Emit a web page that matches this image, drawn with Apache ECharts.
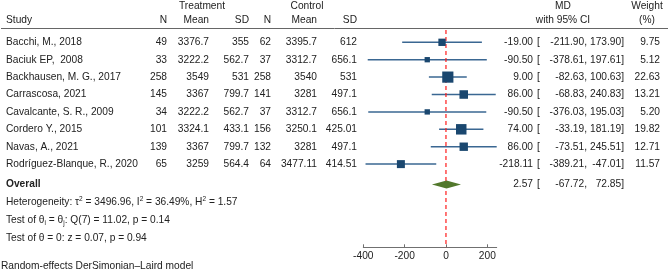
<!DOCTYPE html>
<html>
<head>
<meta charset="utf-8">
<title>Forest plot</title>
<style>html,body{margin:0;padding:0;background:#fff}</style>
</head>
<body>
<div id="main" style="width:669px;height:279px"></div>
<script src="https://cdn.jsdelivr.net/npm/echarts@6.0.0/dist/echarts.min.js"></script>
<script>
// study data
var studies = ['Bacchi, M., 2018', 'Baciuk EP,  2008', 'Backhausen, M. G., 2017', 'Carrascosa, 2021',
    'Cavalcante, S. R., 2009', 'Cordero Y., 2015', 'Navas, A., 2021', 'Rodríguez-Blanque, R., 2020'];
var tN = [49, 33, 258, 145, 34, 101, 139, 65];
var tMean = [3376.7, 3222.2, 3549, 3367, 3222.2, 3324.1, 3367, 3259];
var tSD = [355, 562.7, 531, 799.7, 562.7, 433.1, 799.7, 564.4];
var cN = [62, 37, 258, 141, 37, 156, 132, 64];
var cMean = [3395.7, 3312.7, 3540, 3281, 3312.7, 3250.1, 3281, 3477.11];
var cSD = [612, 656.1, 531, 497.1, 656.1, 425.01, 497.1, 414.51];
var md = [-19.00, -90.50, 9.00, 86.00, -90.50, 74.00, 86.00, -218.11];
var ciLow = [-211.90, -378.61, -82.63, -68.83, -376.03, -33.19, -73.51, -389.21];
var ciHigh = [173.90, 197.61, 100.63, 240.83, 195.03, 181.19, 245.51, -47.01];
var weight = [9.75, 5.12, 22.63, 13.21, 5.20, 19.82, 12.71, 11.57];

var overallMd = 2.57;
var overallLow = -67.72;
var overallHigh = 72.85;

var xTicks = [-400, -200, 0, 200];

var FONT = '"Liberation Sans", Arial, sans-serif';
var FS = 10.2;
var TXT = '#222';
var OVERALL_ROW = 9.17;

var dom = document.getElementById('main');
var myChart = echarts.init(dom);

function txt(x, y, s, align, bold) {
    return {
        type: 'text', x: x, y: y,
        style: {
            text: s, align: align, verticalAlign: 'middle',
            fontSize: FS, fontFamily: FONT, fontWeight: bold ? 'bold' : 'normal', fill: TXT
        }
    };
}

// columns of the table (MD part shared with overall row)
function mdCells(y, m, lo, hi) {
    return [
        txt(533, y, m.toFixed(2), 'right'),
        txt(537, y, '[', 'left'),
        txt(587, y, lo.toFixed(2) + ',', 'right'),
        txt(624, y, hi.toFixed(2) + ']', 'right')
    ];
}

var rows = studies.map(function (s, i) { return [0, i + 1]; });

var option = {
    animation: false,
    grid: { left: 363.3, top: 24.9, width: 133.4, height: 222.4 },
    xAxis: {
        type: 'value', min: -400, max: 245.51, interval: 200,
        splitLine: { show: false },
        axisLine: { onZero: false, lineStyle: { color: '#707070', width: 1 } },
        axisTick: { inside: true, length: 3, customValues: xTicks, lineStyle: { color: '#707070' } },
        axisLabel: { customValues: xTicks, margin: 4, fontSize: FS, fontFamily: FONT, color: TXT }
    },
    yAxis: { type: 'value', inverse: true, min: 0, max: 12.78, show: false },
    graphic: [
        txt(202, 6, 'Treatment', 'center'),
        txt(307, 6, 'Control', 'center'),
        txt(563, 6, 'MD', 'center'),
        txt(647, 6, 'Weight', 'center'),
        txt(6, 20.5, 'Study', 'left'),
        txt(167, 20.5, 'N', 'right'),
        txt(209, 20.5, 'Mean', 'right'),
        txt(249, 20.5, 'SD', 'right'),
        txt(271, 20.5, 'N', 'right'),
        txt(317, 20.5, 'Mean', 'right'),
        txt(357, 20.5, 'SD', 'right'),
        txt(563, 20.5, 'with 95% CI', 'center'),
        txt(647, 20.5, '(%)', 'center'),
        {
            type: 'line', shape: { x1: 1, y1: 28.5, x2: 668, y2: 28.5 },
            style: { stroke: '#666', lineWidth: 1 }
        },
        {
            type: 'text', x: 6, y: 202.5,
            style: {
                text: '{a|Heterogeneity: τ}{s|2}{a| = 3496.96, I}{s|2}{a| = 36.49%, H}{s|2}{a| = 1.57}',
                verticalAlign: 'middle', fill: TXT,
                rich: {
                    a: { fontSize: FS, fontFamily: FONT, lineHeight: 14, fill: TXT },
                    s: { fontSize: 6.5, fontFamily: FONT, verticalAlign: 'top', lineHeight: 14, fill: TXT }
                }
            }
        },
        {
            type: 'text', x: 6, y: 220.5,
            style: {
                text: '{a|Test of θ}{b|i}{a| = θ}{b|j}{a|: Q(7) = 11.02, p = 0.14}',
                verticalAlign: 'middle', fill: TXT,
                rich: {
                    a: { fontSize: FS, fontFamily: FONT, lineHeight: 12, fill: TXT },
                    b: { fontSize: 6.5, fontFamily: FONT, verticalAlign: 'bottom', lineHeight: 12, fill: TXT }
                }
            }
        },
        txt(6, 238.5, 'Test of θ = 0: z = 0.07, p = 0.94', 'left'),
        txt(1, 266, 'Random-effects DerSimonian–Laird model', 'left')
    ],
    series: [
        {
            // confidence intervals
            type: 'custom',
            z: 1,
            data: md.map(function (v, i) { return [ciLow[i], ciHigh[i], i + 1]; }),
            renderItem: function (params, api) {
                var a = api.coord([api.value(0), api.value(2)]);
                var b = api.coord([api.value(1), api.value(2)]);
                return {
                    type: 'line',
                    shape: { x1: a[0], y1: a[1], x2: b[0], y2: b[1] },
                    style: { stroke: '#3a6792', lineWidth: 1.5 }
                };
            }
        },
        {
            // no-effect line
            type: 'line',
            z: 2,
            symbol: 'none',
            data: [[0, 0.29], [0, 12.78]],
            lineStyle: { color: '#ff1a1a', width: 1.2, type: [4, 3] }
        },
        {
            type: 'scatter',
            z: 3,
            symbol: 'rect',
            data: md.map(function (v, i) { return [v, i + 1, weight[i]]; }),
            symbolSize: function (d) { return 2.35 * Math.sqrt(d[2]); },
            itemStyle: { color: '#1a476f', opacity: 1 }
        },
        {
            // overall diamond
            type: 'custom',
            z: 4,
            data: [[overallLow, overallMd, overallHigh, OVERALL_ROW]],
            renderItem: function (params, api) {
                var y = api.value(3);
                var l = api.coord([api.value(0), y]);
                var m = api.coord([api.value(1), y]);
                var r = api.coord([api.value(2), y]);
                return {
                    type: 'polygon',
                    shape: { points: [[l[0], l[1]], [m[0], m[1] - 4], [r[0], r[1]], [m[0], m[1] + 4]] },
                    style: { fill: '#52782c' }
                };
            }
        },
        {
            // table text per study
            type: 'custom',
            z: 5,
            data: rows,
            renderItem: function (params, api) {
                var i = params.dataIndex;
                var y = api.coord([0, api.value(1)])[1];
                var c = [
                    txt(6, y, studies[i], 'left'),
                    txt(167, y, String(tN[i]), 'right'),
                    txt(209, y, String(tMean[i]), 'right'),
                    txt(249, y, String(tSD[i]), 'right'),
                    txt(271, y, String(cN[i]), 'right'),
                    txt(317, y, String(cMean[i]), 'right'),
                    txt(357, y, String(cSD[i]), 'right'),
                    txt(660, y, weight[i].toFixed(2), 'right')
                ].concat(mdCells(y, md[i], ciLow[i], ciHigh[i]));
                return { type: 'group', children: c };
            }
        },
        {
            // overall row text
            type: 'custom',
            z: 5,
            data: [[0, OVERALL_ROW]],
            renderItem: function (params, api) {
                var y = api.coord([0, api.value(1)])[1];
                var c = [txt(6, y, 'Overall', 'left', true)]
                    .concat(mdCells(y, overallMd, overallLow, overallHigh));
                return { type: 'group', children: c };
            }
        }
    ]
};

if (option && typeof option === 'object') {
    myChart.setOption(option, true);
}
</script>
</body>
</html>
